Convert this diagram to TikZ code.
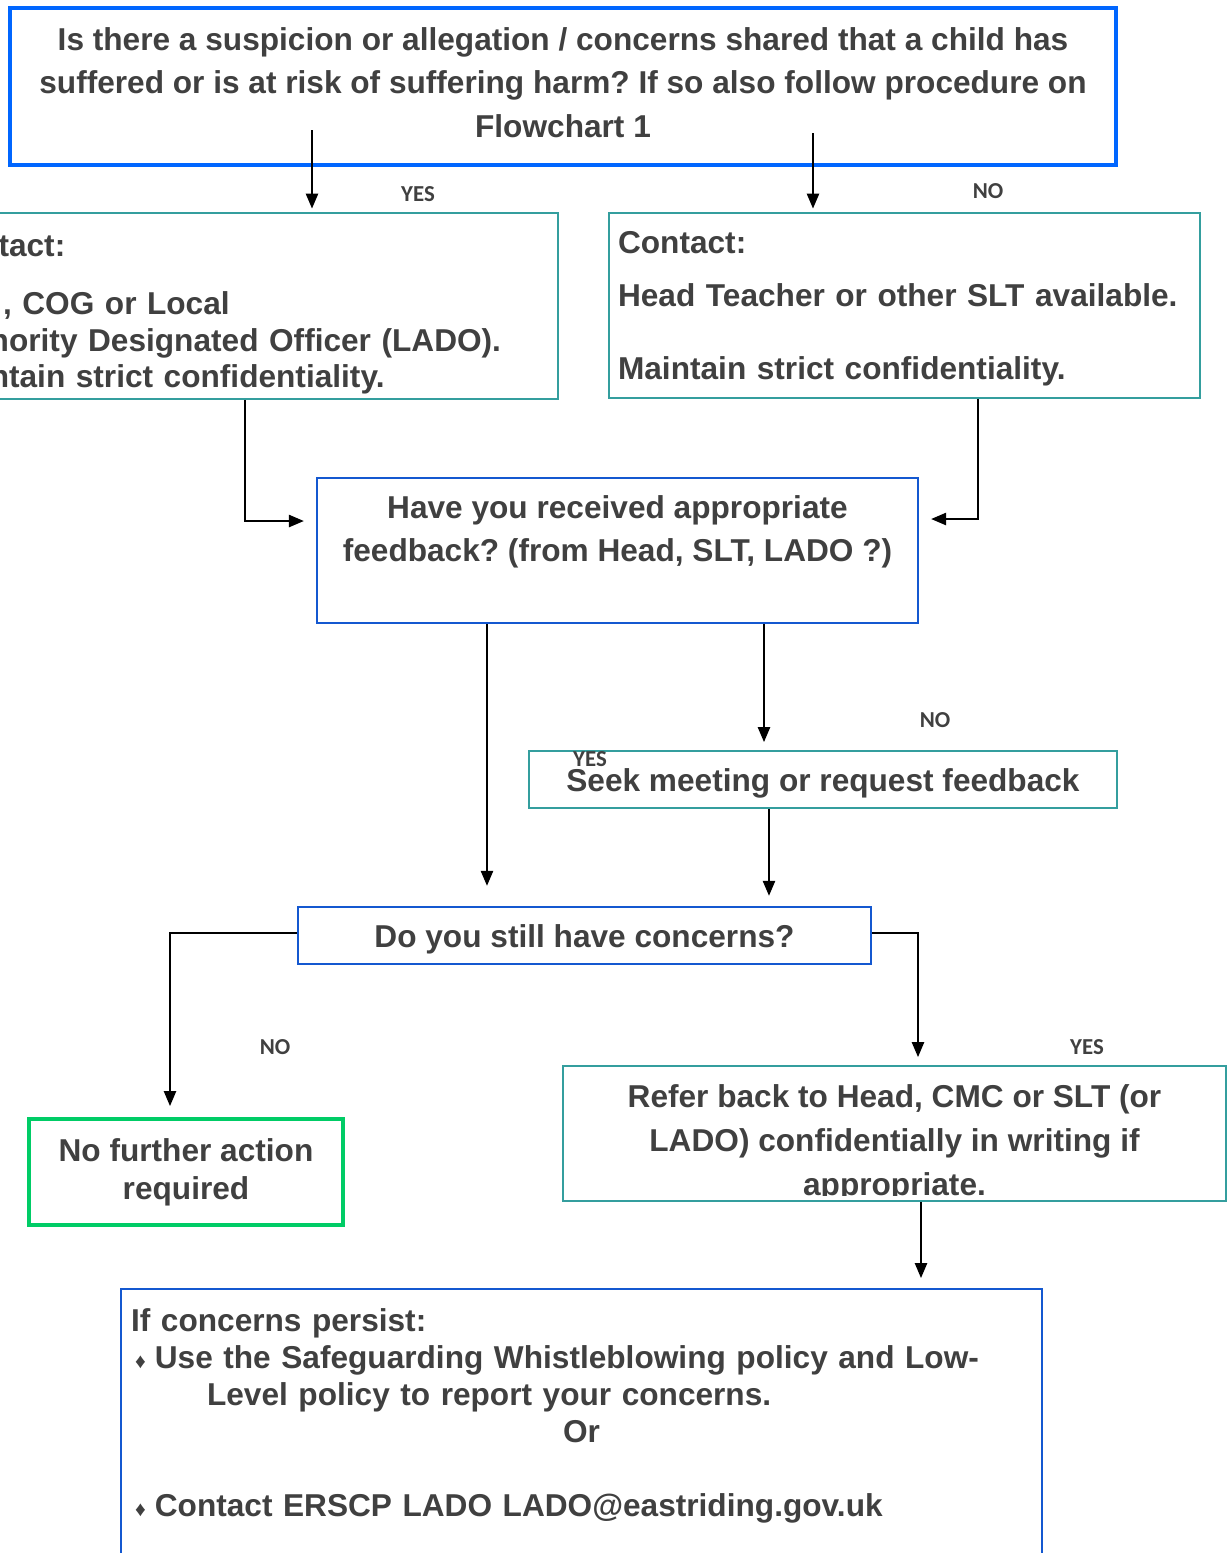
\documentclass[tikz,border=0pt]{standalone}
\usepackage{fontspec}
\setmainfont{Liberation Sans}
\newfontfamily\lblfont{Carlito}
\usetikzlibrary{arrows.meta}
\definecolor{topblue}{RGB}{0,102,255}
\definecolor{boxblue}{RGB}{20,88,208}
\definecolor{boxteal}{RGB}{52,158,158}
\definecolor{boxgreen}{RGB}{0,204,102}
\definecolor{txtgray}{RGB}{64,64,64}
\newcommand{\bul}{\hspace*{0.08cm}{\fontsize{12}{12}\selectfont ♦}\hspace{0.18cm}}
\frenchspacing

\begin{document}
\begin{tikzpicture}[x=0.02cm,y=-0.02cm,
    txt/.style={text=txtgray,align=center,font=\fontsize{18}{25}\selectfont\bfseries},
    box/.style={txt,draw,rectangle,inner sep=0pt},
    bluebox/.style={box,draw=boxblue,line width=1.4pt},
    tealbox/.style={box,draw=boxteal,line width=1.1pt},
    lbl/.style={text=txtgray,font=\lblfont\fontsize{13}{13}\selectfont\bfseries},
    arr/.style={line width=0.85pt,-{Triangle[length=8.5pt,width=7pt]}}]
    \useasboundingbox (0,0) rectangle (1227,1553);
    \clip (0,0) rectangle (1227,1553);

    \node[box,draw=topblue,line width=2.3pt,minimum width=22.12cm,minimum height=3.14cm] (q1) at (563,86.5)
        {Is there a suspicion or allegation / concerns shared that a child has\\suffered or is at risk of suffering harm? If so also follow procedure on\\Flowchart 1\rule[-4.6pt]{0pt}{0pt}};
    \node[tealbox,align=left,text width=12.24cm,inner xsep=0.18cm,inner ysep=0pt,minimum height=3.72cm,font=\fontsize{18}{21}\selectfont\bfseries] (yesbox) at (243,306)
        {\rule{0pt}{22pt}Contact:\\[12pt]\hspace*{1.32cm}, COG or Local\\Authority Designated Officer (LADO).\\Maintain strict confidentiality.};
    \node[tealbox,align=left,text width=11.46cm,inner xsep=0.18cm,inner ysep=0pt,minimum height=3.7cm,font=\fontsize{18}{21}\selectfont\bfseries] (nobox) at (904.5,305.5)
        {\rule{0pt}{16.4pt}Contact:\\[9pt]Head Teacher or other SLT available.\\[21pt]Maintain strict confidentiality.};
    \node[bluebox,minimum width=12.02cm,minimum height=2.9cm] (feedback) at (617.5,550.5)
        {Have you received appropriate\\feedback? (from Head, SLT, LADO ?)\\ \mbox{}};
    \node[tealbox,minimum width=11.76cm,minimum height=1.14cm,text height=14pt,text depth=0pt] (seek) at (823,779.5) {Seek meeting or request feedback};
    \node[bluebox,minimum width=11.46cm,minimum height=1.14cm,text height=14pt,text depth=0pt] (still) at (584.5,935.5) {Do you still have concerns?};
    \node[box,draw=boxgreen,line width=2.3pt,minimum width=6.28cm,minimum height=2.12cm,font=\fontsize{18}{21.5}\selectfont\bfseries] (nofurther) at (186,1172)
        {No further action\\required};
    \node[tealbox,minimum width=13.26cm,minimum height=2.7cm,
        path picture={\clip ([yshift=0.12cm]path picture bounding box.south west) rectangle (path picture bounding box.north east);
        \node[txt] (refertext) at ([yshift=-0.19cm]path picture bounding box.center)
        {Refer back to Head, CMC or SLT (or\\LADO) confidentially in writing if\\appropriate.};}] (refer) at (894.5,1133.5) {};
    \node[bluebox,anchor=north,align=left,text width=18.02cm,inner sep=0.2cm,minimum height=5.68cm,font=\fontsize{18}{21}\selectfont\bfseries] (final) at (581.5,1288)
        {If concerns persist:\\\bul Use the Safeguarding Whistleblowing policy and Low-\\\hspace*{1.52cm}Level policy to report your concerns.\\\makebox[\linewidth]{Or}\\[21pt]\bul Contact ERSCP LADO LADO@eastriding.gov.uk\\ \mbox{}};

    \node[lbl] (yes1) at (418,194) {YES};
    \node[lbl] (no1) at (988,191) {NO};
    \node[lbl] (no2) at (935,720) {NO};
    \node[lbl] (yes2) at (590,759) {YES};
    \node[lbl] (no3) at (275,1047) {NO};
    \node[lbl] (yes3) at (1087,1047) {YES};

    \coordinate (q1yes) at (312,130);
    \coordinate (q1no) at (813,133);
    \coordinate (yesdown) at (245,0);
    \coordinate (nodown) at (978,0);
    \coordinate (colA) at (487,0);
    \coordinate (colB) at (764,0);
    \coordinate (colC) at (769,0);
    \coordinate (colD) at (170,0);
    \coordinate (colE) at (918,0);
    \coordinate (colF) at (921,0);

    \draw[arr,shorten >=2pt] (q1yes) -- (q1yes |- yesbox.north);
    \draw[arr,shorten >=2pt] (q1no) -- (q1no |- nobox.north);
    \draw[arr,shorten >=0.24cm] (yesbox.south -| yesdown) |- ([yshift=0.59cm]feedback.west);
    \draw[arr,shorten >=0.24cm] (nobox.south -| nodown) |- ([yshift=0.63cm]feedback.east);
    \draw[arr,shorten >=0.4cm] (feedback.south -| colA) -- (still.north -| colA);
    \draw[arr,shorten >=0.16cm] (feedback.south -| colB) -- (seek.north -| colB);
    \draw[arr,shorten >=0.2cm] (seek.south -| colC) -- (still.north -| colC);
    \draw[arr,shorten >=0.22cm] ([yshift=0.05cm]still.west) -| (nofurther.north -| colD);
    \draw[arr,shorten >=0.16cm] ([yshift=0.05cm]still.east) -| (refer.north -| colE);
    \draw[arr,shorten >=0.2cm] (refer.south -| colF) -- (final.north -| colF);
\end{tikzpicture}
\end{document}
